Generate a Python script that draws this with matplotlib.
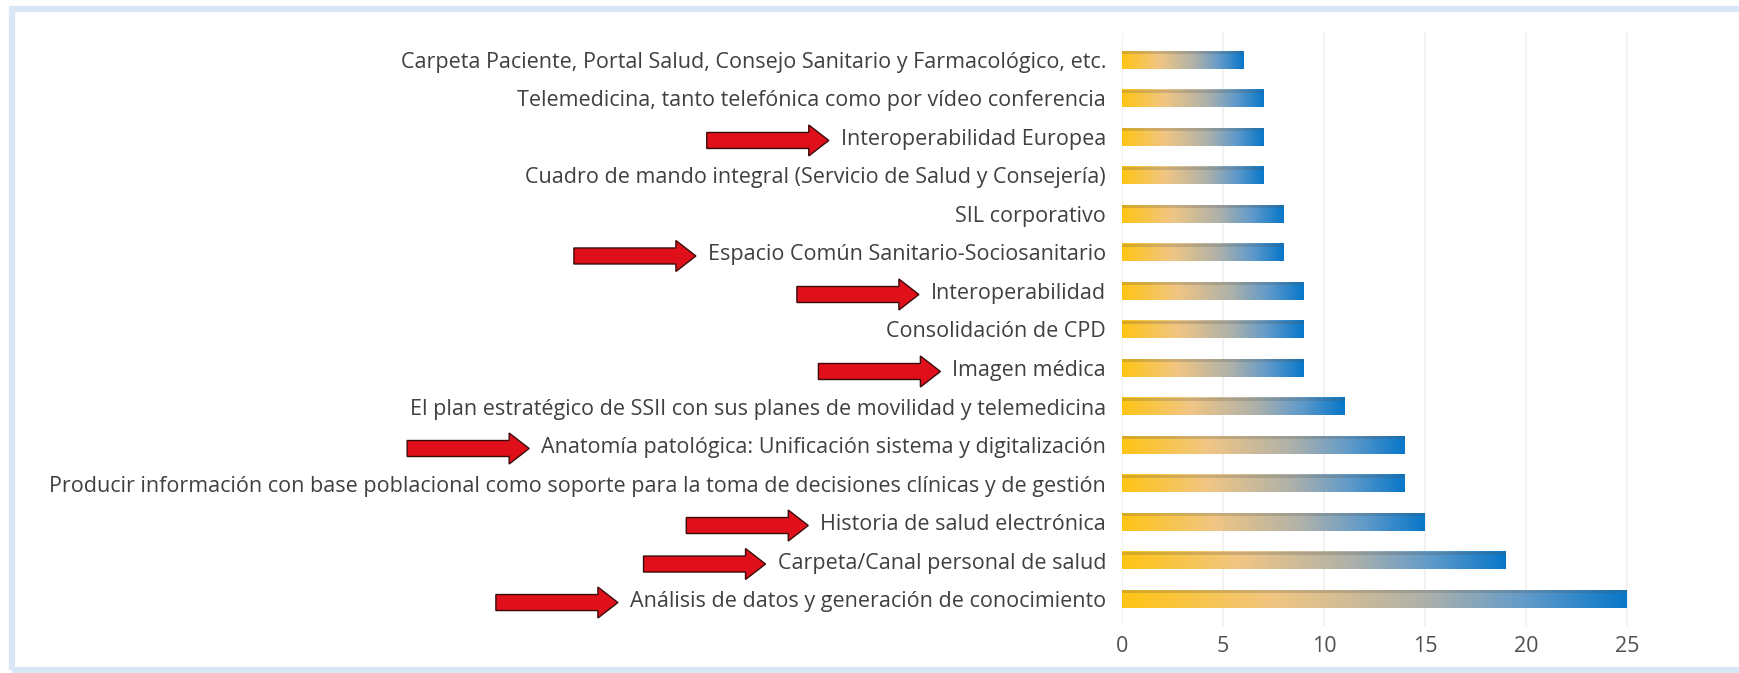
import numpy as np
import matplotlib
matplotlib.use("Agg")
import matplotlib.pyplot as plt
from matplotlib.colors import LinearSegmentedColormap
from matplotlib.patches import Polygon, Rectangle

# --- data (top to bottom as in the picture) ---
labels = [
    "Carpeta Paciente, Portal Salud, Consejo Sanitario y Farmacológico, etc.",
    "Telemedicina, tanto telefónica como por vídeo conferencia",
    "Interoperabilidad Europea",
    "Cuadro de mando integral (Servicio de Salud y Consejería)",
    "SIL corporativo",
    "Espacio Común Sanitario-Sociosanitario",
    "Interoperabilidad",
    "Consolidación de CPD",
    "Imagen médica",
    "El plan estratégico de SSII con sus planes de movilidad y telemedicina",
    "Anatomía patológica: Unificación sistema y digitalización",
    "Producir información con base poblacional como soporte para la toma de decisiones clínicas y de gestión",
    "Historia de salud electrónica",
    "Carpeta/Canal personal de salud",
    "Análisis de datos y generación de conocimiento",
]
values = [6, 7, 7, 7, 8, 8, 9, 9, 9, 11, 14, 14, 15, 19, 25]
arrowed = [
    "Interoperabilidad Europea",
    "Espacio Común Sanitario-Sociosanitario",
    "Interoperabilidad",
    "Imagen médica",
    "Anatomía patológica: Unificación sistema y digitalización",
    "Historia de salud electrónica",
    "Carpeta/Canal personal de salud",
    "Análisis de datos y generación de conocimiento",
]
xticks = [0, 5, 10, 15, 20, 25]

TEXT = "#404040"
FRAME = "#d9e6f6"
ARROW_RED = "#e0101a"

plt.rcParams["font.family"] = ["Open Sans", "DejaVu Sans"]

W, H = 1739, 673
fig = plt.figure(figsize=(W / 100, H / 100), dpi=100)
fig.patch.set_facecolor("white")

# light blue frame around the screenshot
fig.add_artist(Rectangle((12 / W, 3 / H), 1.2, (H - 12) / H, transform=fig.transFigure,
                         fill=False, edgecolor=FRAME, linewidth=4.5))

unit = 20.2
ax = fig.add_axes([1122 / W, 47 / H, 28 * unit / W, 593 / H])
ax.set_xlim(0, 28)
ax.set_ylim(-0.7, 14.7)

grad = LinearSegmentedColormap.from_list("bar", [
    (0.0, "#ffc414"), (0.3, "#f1c683"), (0.6, "#aeb1aa"),
    (0.8, "#629bca"), (1.0, "#0877c9")])
g = np.linspace(0, 1, 256).reshape(1, -1)

n = len(labels)
ypos = np.arange(n)[::-1]
h = 0.46
for y, v in zip(ypos, values):
    ax.imshow(g, cmap=grad, extent=[0, v, y - h / 2, y + h / 2],
              aspect="auto", zorder=3, interpolation="bilinear")
    # darker top edge for the 3D look
    ax.barh(y + h / 2 - 0.04, v, height=0.08, color="#50504a", alpha=0.22,
            zorder=4, linewidth=0)

ax.set_yticks(ypos)
ax.set_yticklabels(labels)
ax.set_xticks(xticks)
ax.tick_params(axis="y", length=0, pad=11.5, labelsize=15.5, labelcolor=TEXT)
ax.tick_params(axis="x", length=0, pad=7, labelsize=15.5, labelcolor="#505050")
for s in ax.spines.values():
    s.set_visible(False)
ax.grid(axis="x", color="#f0f0f0", linewidth=1.2, zorder=0)
ax.set_axisbelow(True)

# red arrows next to highlighted labels
fig.canvas.draw()
r = fig.canvas.get_renderer()
inv = fig.transFigure.inverted()
for lab in ax.get_yticklabels():
    if lab.get_text() not in arrowed:
        continue
    bb = lab.get_window_extent(r)
    tip = bb.x0 - 12
    yc = (bb.y0 + bb.y1) / 2 - 1
    L, hl, bw, hw = 122, 20, 8, 15.5
    pts = [(tip - L, yc - bw), (tip - hl, yc - bw), (tip - hl, yc - hw), (tip, yc),
           (tip - hl, yc + hw), (tip - hl, yc + bw), (tip - L, yc + bw)]
    pts = inv.transform(pts)
    fig.add_artist(Polygon(pts, closed=True, facecolor=ARROW_RED,
                           edgecolor="#3a0a0a", linewidth=1.0, transform=fig.transFigure))

fig.savefig("out.png", dpi=100, facecolor="white")
